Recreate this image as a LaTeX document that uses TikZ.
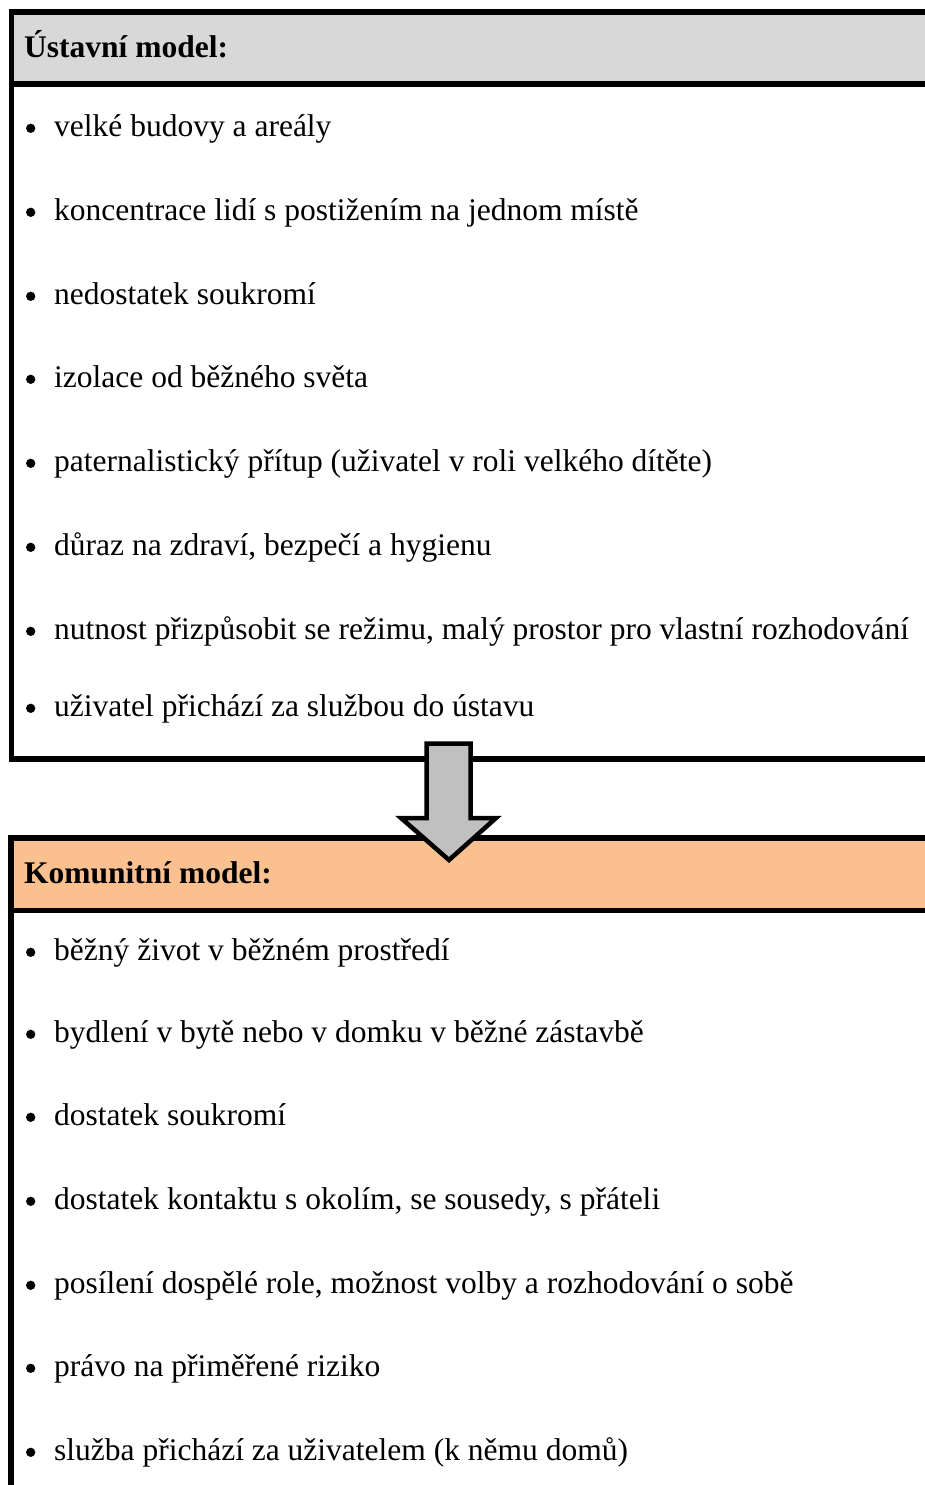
\documentclass[tikz,border=0pt]{standalone}
\usepackage{fontspec}
\setmainfont{Liberation Serif}
\definecolor{headgray}{HTML}{D8D8D8}
\definecolor{headorange}{HTML}{FAC090}
\definecolor{arrowgray}{HTML}{C0C0C0}
\tikzset{
  frameline/.style={line width=5.5pt},
  headtext/.style={anchor=base west, inner sep=0pt, font=\fontsize{31.5}{38}\selectfont\bfseries},
  itemtext/.style={anchor=base west, inner sep=0pt, font=\fontsize{31.5}{38}\selectfont},
  bulletmark/.style={circle, fill, inner sep=0pt, minimum size=9.3pt}
}
\begin{document}
\begin{tikzpicture}[x=1pt, y=-1pt]
    \useasboundingbox (0,0) rectangle (925,1485);

    % Institutional box
    \fill[headgray] (11.5,12) rectangle (940,84);
    \draw[frameline] (940,12) -- (11.5,12) -- (11.5,759) -- (940,759);
    \draw[frameline] (11.5,84) -- (940,84);
    \node[headtext] (usthead) at (24,58) {Ústavní model:};
    \foreach \y/\txt [count=\i] in {136/velké budovy a areály,
        220/koncentrace lidí s postižením na jednom místě,
        304/nedostatek soukromí,
        387/izolace od běžného světa,
        471/paternalistický přítup (uživatel v roli velkého dítěte),
        555/{důraz na zdraví, bezpečí a hygienu},
        639/{nutnost přizpůsobit se režimu, malý prostor pro vlastní rozhodování},
        716/uživatel přichází za službou do ústavu} {
        \node[bulletmark] (ustb\i) at (30.7,\y-7.7) {};
        \node[itemtext] (ust\i) at (54,\y) {\txt};
    }

    % Community box
    \fill[headorange] (11,838) rectangle (940,910.5);
    \draw[frameline] (940,838) -- (11,838) -- (11,1500);
    \draw[frameline] (11,910.5) -- (940,910.5);
    \node[headtext] (komhead) at (24,883) {Komunitní model:};
    \foreach \y/\txt [count=\i] in {960/běžný život v běžném prostředí,
        1042/bydlení v bytě nebo v domku v běžné zástavbě,
        1125/dostatek soukromí,
        1209/{dostatek kontaktu s okolím, se sousedy, s přáteli},
        1293/{posílení dospělé role, možnost volby a rozhodování o sobě},
        1376/právo na přiměřené riziko,
        1460/služba přichází za uživatelem (k němu domů)} {
        \node[bulletmark] (komb\i) at (30.7,\y-7.7) {};
        \node[itemtext] (kom\i) at (54,\y) {\txt};
    }

    % Transition arrow
    \draw[line width=4.5pt, fill=arrowgray] (426.7,743.7) -- (470.7,743.7) -- (470.7,818)
        -- (496,818) -- (449,860) -- (401,818) -- (426.7,818) -- cycle;

\end{tikzpicture}
\end{document}
